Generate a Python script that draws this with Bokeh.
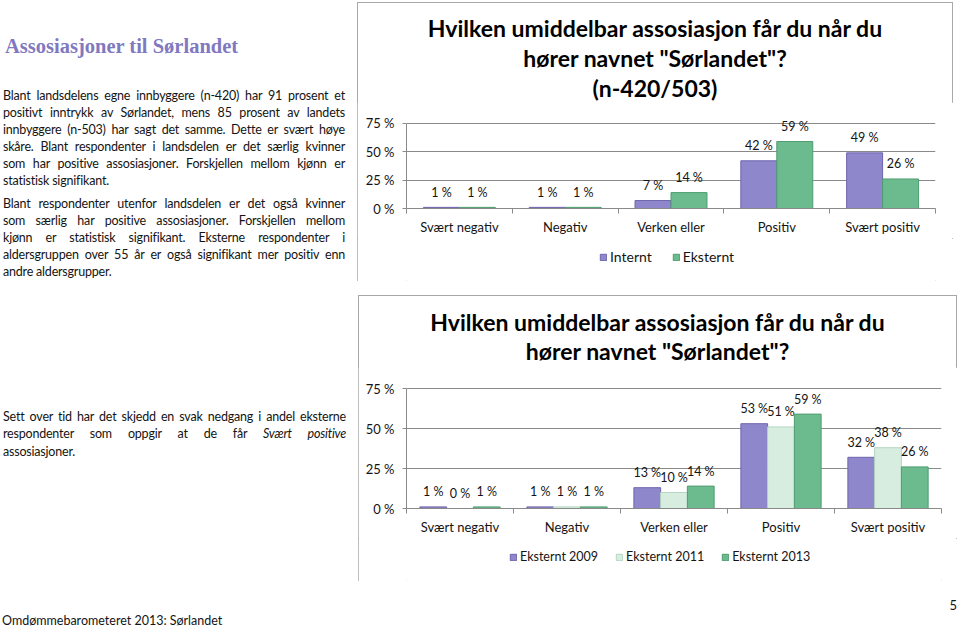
from bokeh.plotting import figure
from bokeh.models import Legend, LegendItem, FixedTicker, Range1d, Div
from bokeh.layouts import row, column
from bokeh.embed import file_html
from bokeh.resources import INLINE
from bokeh.core.properties import value

# ---------------- data ----------------
categories = ["Svært negativ", "Negativ", "Verken eller", "Positiv", "Svært positiv"]
y_ticks = [0, 25, 50, 75]
y_tick_labels = ["0 %", "25 %", "50 %", "75 %"]

c1_title = ['Hvilken umiddelbar assosiasjon får du når du', 'hører navnet "Sørlandet"?', '(n-420/503)']
c1_series = ["Internt", "Eksternt"]
c1_internt = [1, 1, 7, 42, 49]
c1_eksternt = [1, 1, 14, 59, 26]

c2_title = ['Hvilken umiddelbar assosiasjon får du når du', 'hører navnet "Sørlandet"?']
c2_series = ["Eksternt 2009", "Eksternt 2011", "Eksternt 2013"]
c2_2009 = [1, 1, 13, 53, 32]
c2_2011 = [0, 1, 10, 51, 38]
c2_2013 = [1, 1, 14, 59, 26]

page_title = "Assosiasjoner til Sørlandet"
para1 = [
    "Blant landsdelens egne innbyggere (n-420) har 91 prosent et",
    "positivt inntrykk av Sørlandet, mens 85 prosent av landets",
    "innbyggere (n-503) har sagt det samme. Dette er svært høye",
    "skåre. Blant respondenter i landsdelen er det særlig kvinner",
    "som har positive assosiasjoner. Forskjellen mellom kjønn er",
    "statistisk signifikant.",
]
para2 = [
    "Blant respondenter utenfor landsdelen er det også kvinner",
    "som særlig har positive assosiasjoner. Forskjellen mellom",
    "kjønn er statistisk signifikant. Eksterne respondenter i",
    "aldersgruppen over 55 år er også signifikant mer positiv enn",
    "andre aldersgrupper.",
]
para3 = [
    "Sett over tid har det skjedd en svak nedgang i andel eksterne",
    "respondenter som oppgir at de får <i>Svært positive</i>",
    "assosiasjoner.",
]
footer = "Omdømmebarometeret 2013: Sørlandet"
page_no = "5"

# ---------------- style ----------------
FONT = "Lato"
PURPLE, PURPLE_L = "#8f87cc", "#6e64ad"
GREEN, GREEN_L = "#6cbb8f", "#4f9c70"
LGREEN, LGREEN_L = "#d7ede0", "#b5d6c2"
GRID = "#8a8a8a"
TXT = "#141414"
BOX = "1px solid #a8a8a8"


def make_chart(width, fl, fw, ft, fh, fb, ytop, series, fills, lines, bar_w):
    p = figure(width=width, height=ft + fh + fb, x_range=Range1d(0, 5), y_range=Range1d(0, ytop),
               output_backend="svg", toolbar_location=None,
               min_border_left=fl, min_border_right=width - fl - fw,
               min_border_top=ft, min_border_bottom=fb,
               outline_line_color=None, background_fill_color="white",
               border_fill_color="white", margin=0)
    # x axis: labels at category centres, small ticks at category boundaries
    p.xaxis.ticker = FixedTicker(ticks=[i + 0.5 for i in range(len(categories))],
                                 minor_ticks=list(range(len(categories) + 1)))
    p.xaxis.major_label_overrides = {i + 0.5: c for i, c in enumerate(categories)}
    p.xaxis.axis_line_color = GRID
    p.xaxis.major_tick_line_color = None
    p.xaxis.minor_tick_line_color = GRID
    p.xaxis.minor_tick_in = 0
    p.xaxis.minor_tick_out = 5
    p.xaxis.major_label_standoff = 4
    p.xaxis.major_label_text_font = FONT
    p.xaxis.major_label_text_font_size = "13px"
    p.xaxis.major_label_text_color = TXT

    p.yaxis.ticker = FixedTicker(ticks=y_ticks)
    p.yaxis.bounds = (y_ticks[0], y_ticks[-1])
    p.yaxis.major_label_overrides = {t: l for t, l in zip(y_ticks, y_tick_labels)}
    p.yaxis.axis_line_color = GRID
    p.yaxis.major_tick_line_color = GRID
    p.yaxis.major_tick_in = 0
    p.yaxis.major_tick_out = 4
    p.yaxis.minor_tick_line_color = None
    p.yaxis.major_label_standoff = 8
    p.yaxis.major_label_text_font = FONT
    p.yaxis.major_label_text_font_size = "13px"
    p.yaxis.major_label_text_color = TXT

    p.xgrid.grid_line_color = None
    p.ygrid.grid_line_color = GRID

    n = len(series)
    for j, vals in enumerate(series):
        xs = [i + 0.5 + (j - (n - 1) / 2) * bar_w for i in range(len(vals))]
        p.vbar(x=xs, top=vals, bottom=0, width=bar_w, fill_color=fills[j],
               line_color=lines[j], line_width=1)
        p.text(x=xs, y=vals, text=[f"{v} %" for v in vals], text_align="center",
               text_baseline="middle", y_offset=-15, text_font=value(FONT),
               text_font_size="12.5px", text_color=TXT)
    return p


def legend_fig(width, height, names, series, fills, lines, lx, ly, spacing, fsize):
    q = figure(width=width, height=height, x_range=Range1d(0, 5), y_range=Range1d(0, 75),
               output_backend="svg", toolbar_location=None, x_axis_type=None,
               y_axis_type=None, min_border=0, outline_line_color=None,
               background_fill_color="white", border_fill_color="white", margin=0)
    q.xgrid.grid_line_color = None
    q.ygrid.grid_line_color = None
    items = []
    for name, vals, fc, lc in zip(names, series, fills, lines):
        # hidden copy of the series, used only to draw the legend swatch
        r = q.vbar(x=[i + 0.5 for i in range(len(vals))], top=vals, width=0.3,
                   fill_color=fc, line_color=lc, visible=False)
        items.append(LegendItem(label=name, renderers=[r]))
    lg = Legend(items=items, location=(lx, ly), orientation="horizontal",
                glyph_width=8, glyph_height=8, label_standoff=3, padding=0, margin=0,
                spacing=spacing, label_height=14, border_line_alpha=0,
                background_fill_alpha=0, inactive_fill_alpha=0, label_text_font=FONT,
                label_text_font_size=fsize, label_text_color=TXT)
    q.add_layout(lg)
    return q


def title_div(lines, width, height, lh, pad):
    html = (f'<div style="width:{width}px;height:{height}px;box-sizing:border-box;'
            f'padding-top:{pad}px;text-align:center;font-family:{FONT};font-weight:bold;'
            f'font-size:23px;line-height:{lh}px;color:#000;white-space:nowrap;">'
            + "<br>".join(lines) + '</div>')
    return Div(text=html, width=width, height=height, margin=0)


# chart 1 : box 596 x 279
t1 = title_div(c1_title, 596, 100, 30, 11)
p1 = make_chart(596, 49, 529, 14, 92, 30, 81, [c1_internt, c1_eksternt],
                [PURPLE, GREEN], [PURPLE_L, GREEN_L], 0.34)
l1 = legend_fig(596, 43, c1_series, [c1_internt, c1_eksternt], [PURPLE, GREEN],
                [PURPLE_L, GREEN_L], 193, 16, 20, "14px")
chart1 = column(t1, p1, l1, spacing=0, margin=(2, 0, 0, 0),
                styles={"outline": BOX, "outline-offset": "-1px"})

# chart 2 : box 599 x 286
t2 = title_div(c2_title, 599, 72, 29, 13)
p2 = make_chart(599, 48, 535, 13, 128, 30, 80, [c2_2009, c2_2011, c2_2013],
                [PURPLE, LGREEN, GREEN], [PURPLE_L, LGREEN_L, GREEN_L], 0.25)
l2 = legend_fig(599, 43, c2_series, [c2_2009, c2_2011, c2_2013], [PURPLE, LGREEN, GREEN],
                [PURPLE_L, LGREEN_L, GREEN_L], 103, 17, 17, "12.5px")
chart2 = column(t2, p2, l2, spacing=0, margin=(14, 0, 0, 1),
                styles={"outline": BOX, "outline-offset": "-1px"})


def para_html(lines, top, lh, width, size, left):
    out = []
    for k, ln in enumerate(lines):
        align = "left" if k == len(lines) - 1 else "justify"
        out.append(
            f'<div style="position:absolute;left:{left}px;top:{top + k * lh}px;width:{width}px;'
            f'height:{lh}px;line-height:{lh}px;font-size:{size}px;letter-spacing:-0.2px;'
            f'text-align:{align};text-align-last:{align};">{ln}</div>')
    return "".join(out)


left_html = (
    f'<div style="position:relative;width:357px;height:629px;font-family:{FONT};color:{TXT};">'
    f'<div style="position:absolute;left:5px;top:34px;line-height:24px;font-size:20.5px;'
    f'font-family:\'Liberation Serif\';font-weight:bold;color:#8079c0;white-space:nowrap;">{page_title}</div>'
    + para_html(para1, 86.5, 17, 342, 12.5, 3)
    + para_html(para2, 194.5, 17, 342, 12.5, 3)
    + para_html(para3, 407.5, 17.5, 343, 12.5, 3)
    + f'<div style="position:absolute;left:2px;top:614px;line-height:14px;font-size:12.5px;'
      f'white-space:nowrap;">{footer}</div>'
    + '</div>'
)
left = Div(text=left_html, width=357, height=629, margin=0)
num = Div(text=f'<div style="width:600px;text-align:right;font-family:{FONT};font-size:13px;'
               f'line-height:16px;padding-top:16px;color:{TXT};">{page_no}</div>',
          width=600, height=44, margin=0)

layout = row(left, column(chart1, chart2, num, spacing=0, margin=0), spacing=0, margin=0)

open("out.html", "w").write(file_html(layout, INLINE))
